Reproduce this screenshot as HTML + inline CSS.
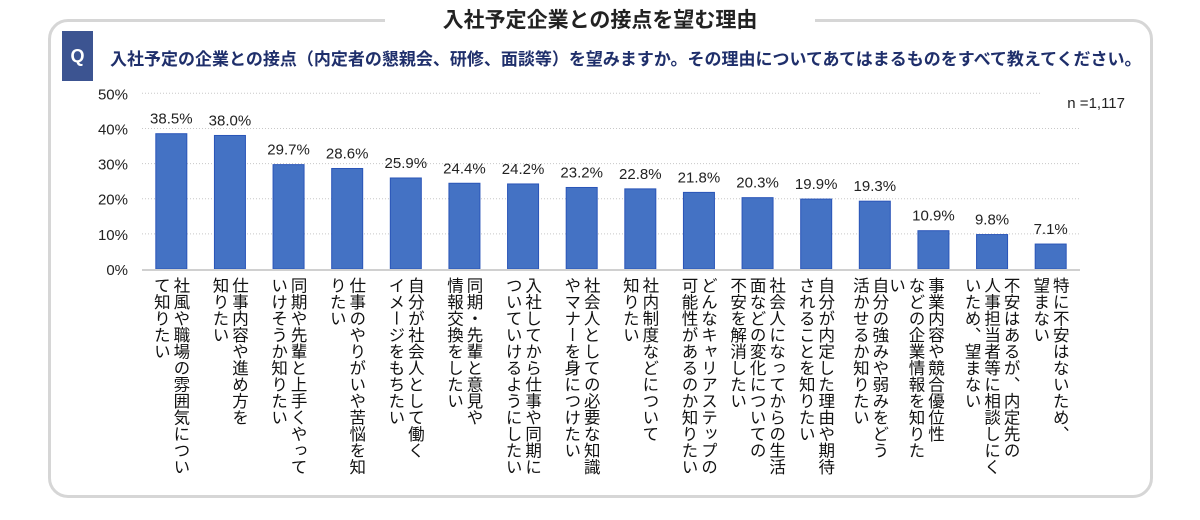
<!DOCTYPE html>
<html><head><meta charset="utf-8">
<style>
body{margin:0;width:1200px;height:520px;background:#fff;font-family:"Liberation Sans","Noto Sans CJK JP",sans-serif;overflow:hidden;position:relative}
.frame{position:absolute;left:48px;top:19px;width:1099px;height:473px;border:3px solid #d6d6d6;border-radius:20px}
.title{position:absolute;left:385px;top:4px;width:430px;text-align:center;background:#fff;font-size:21px;font-weight:bold;color:#222;font-family:"Noto Sans CJK JP",sans-serif;line-height:30px}
.qbox{position:absolute;left:62px;top:31px;width:31px;height:50px;background:#3c5491;color:#fff;font-weight:bold;font-size:18px;text-align:center;line-height:50px}
.q{position:absolute;left:110px;top:45px;font-size:17px;font-weight:bold;color:#1f2f6b;font-family:"Noto Sans CJK JP",sans-serif;white-space:nowrap}
.lbl{position:absolute;top:277px;writing-mode:vertical-rl;font-size:16.5px;line-height:19.5px;color:#111;font-family:"Noto Sans CJK JP",sans-serif;white-space:nowrap}
</style></head><body>
<div class="frame"></div>
<div class="title">入社予定企業との接点を望む理由</div>
<div class="qbox">Q</div>
<div class="q">入社予定の企業との接点（内定者の懇親会、研修、面談等）を望みますか。その理由についてあてはまるものをすべて教えてください。</div>
<svg id="chart" width="1200" height="520" style="position:absolute;left:0;top:0"></svg>
<div id="labels"></div>
<script>
const categories=["社風や職場の雰囲気につい|て知りたい","仕事内容や進め方を|知りたい","同期や先輩と上手くやって|いけそうか知りたい","仕事のやりがいや苦悩を知|りたい","自分が社会人として働く|イメージをもちたい","同期・先輩と意見や|情報交換をしたい","入社してから仕事や同期に|ついていけるようにしたい","社会人としての必要な知識|やマナーを身につけたい","社内制度などについて|知りたい","どんなキャリアステップの|可能性があるのか知りたい","社会人になってからの生活|面などの変化についての|不安を解消したい","自分が内定した理由や期待|されることを知りたい","自分の強みや弱みをどう|活かせるか知りたい","事業内容や競合優位性|などの企業情報を知りた|い","不安はあるが、内定先の|人事担当者等に相談しにく|いため、望まない","特に不安はないため、|望まない"];
const values=[38.5,38.0,29.7,28.6,25.9,24.4,24.2,23.2,22.8,21.8,20.3,19.9,19.3,10.9,9.8,7.1];
const valueLabels=["38.5%","38.0%","29.7%","28.6%","25.9%","24.4%","24.2%","23.2%","22.8%","21.8%","20.3%","19.9%","19.3%","10.9%","9.8%","7.1%"];
const ticks=[0,10,20,30,40,50];
const tickLabels=["0%","10%","20%","30%","40%","50%"];
const NS="http://www.w3.org/2000/svg";
const svg=document.getElementById('chart');
const x0=142,x1=1080,y0=269,yTop=93.3,max=50;
const slot=(x1-x0)/values.length;
const y=v=>y0-(v/max)*(y0-yTop);
const xc=i=>x0+slot*(i+0.5);
function mk(t,a){const e=document.createElementNS(NS,t);for(const k in a)e.setAttribute(k,a[k]);svg.appendChild(e);return e;}
ticks.forEach((t,i)=>{
  if(t>0){const g=mk('line',{x1:x0,x2:(t===50?1040:1080),y1:y(t),y2:y(t),stroke:'#c8c8c8','stroke-dasharray':'1 2'});
  
  }
  const l=mk('text',{x:128,y:y(t)+6,'text-anchor':'end','font-size':'15','fill':'#222','font-family':'Liberation Sans, sans-serif'});
  l.textContent=tickLabels[i];
  
  
});
values.forEach((v,i)=>{
  const cx=xc(i);
  const b=mk('rect',{x:cx-15.5,y:y(v),width:31,height:y0-y(v),fill:'#4472c4',stroke:'#2a55b8','stroke-width':1});
  
  
  const t=mk('text',{x:cx,y:y(v)-10,'text-anchor':'middle','font-size':'15','fill':'#222','font-family':'Liberation Sans, sans-serif'});
  t.textContent=valueLabels[i];
  
  
});
const ax=mk('line',{x1:x0,x2:x1,y1:y0+1,y2:y0+1,stroke:'#d0d0d0','stroke-width':2});


const n=mk('text',{x:1125,y:108,'text-anchor':'end','font-size':'15','fill':'#222','font-family':'Liberation Sans, sans-serif'});
n.textContent='n =1,117';


const lw=document.getElementById('labels');
categories.forEach((c,i)=>{
  const cols=c.split('|');
  const d=document.createElement('div');
  d.className='lbl';
  d.innerHTML=cols.join('<br>');
  const w=cols.length*19.5;
  let right=xc(i)+19.5;
  if(cols.length===3) right=xc(i)+29;
  if(i===13) right=xc(i)+12;
  if(i===12) right=xc(i)+15;
  d.style.left=(right-w)+'px';
  
  
  lw.appendChild(d);
});
</script>
</body></html>
